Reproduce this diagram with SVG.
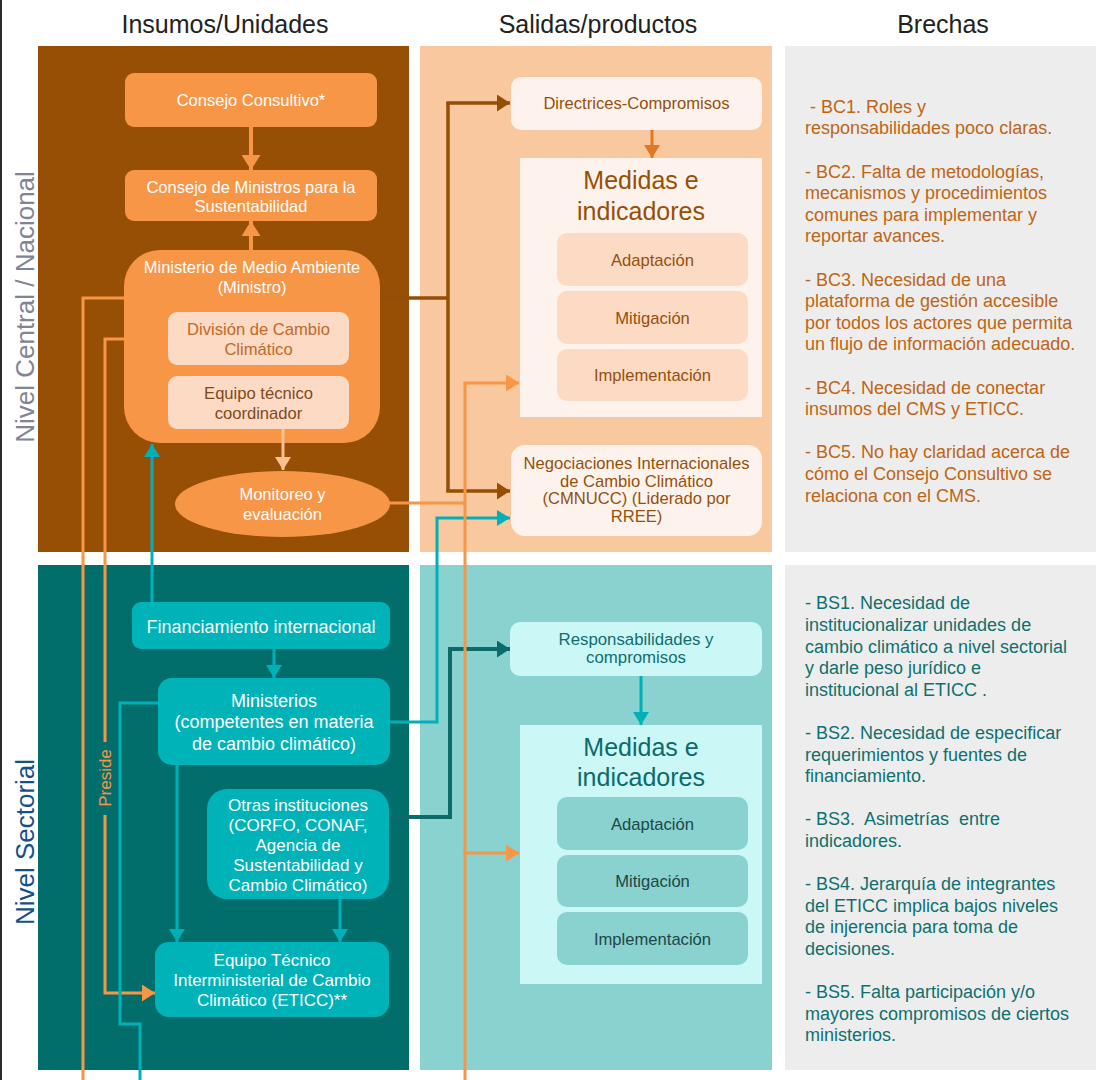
<svg xmlns="http://www.w3.org/2000/svg" width="1096" height="1080" viewBox="0 0 1096 1080">
<defs>
<style>
text{font-family:"Liberation Sans",Arial,sans-serif}
.hdr{font-size:25px;fill:#222;text-anchor:middle}
.lvl{font-size:26px;text-anchor:middle}
.w{fill:#fff;text-anchor:middle;font-size:16.5px}
.wt{fill:#fff;text-anchor:middle;font-size:17px}
.br{fill:#95500E;text-anchor:middle;font-size:16.6px}
.tl{fill:#0F6E6E;text-anchor:middle;font-size:16.8px}
.dk{fill:#1D4747;text-anchor:middle;font-size:16.6px}
.ttl{font-size:25px;text-anchor:middle}
.gapT{fill:#BF6514;font-size:18px}
.gapB{fill:#0E7070;font-size:18px}
.ln{fill:none;stroke-linejoin:miter}
</style>
<marker id="mOr" viewBox="0 0 15 19" refX="15" refY="9.5" markerWidth="15" markerHeight="19" markerUnits="userSpaceOnUse" orient="auto"><path d="M0,0L15,9.5L0,19z" fill="#F79646"/></marker>
<marker id="mOrS" viewBox="0 0 13 17" refX="13" refY="8.5" markerWidth="13" markerHeight="17" markerUnits="userSpaceOnUse" orient="auto"><path d="M0,0L13,8.5L0,17z" fill="#F79646"/></marker>
<marker id="mPe" viewBox="0 0 13 16" refX="13" refY="8" markerWidth="13" markerHeight="16" markerUnits="userSpaceOnUse" orient="auto"><path d="M0,0L13,8L0,16z" fill="#FAC090"/></marker>
<marker id="mBr" viewBox="0 0 13 17" refX="13" refY="8.5" markerWidth="13" markerHeight="17" markerUnits="userSpaceOnUse" orient="auto"><path d="M0,0L13,8.5L0,17z" fill="#944E06"/></marker>
<marker id="mDo" viewBox="0 0 13 16" refX="13" refY="8" markerWidth="13" markerHeight="16" markerUnits="userSpaceOnUse" orient="auto"><path d="M0,0L13,8L0,16z" fill="#E07826"/></marker>
<marker id="mCy" viewBox="0 0 13 16" refX="13" refY="8" markerWidth="13" markerHeight="16" markerUnits="userSpaceOnUse" orient="auto"><path d="M0,0L13,8L0,16z" fill="#00B0B8"/></marker>
<marker id="mDt" viewBox="0 0 13 17" refX="13" refY="8.5" markerWidth="13" markerHeight="17" markerUnits="userSpaceOnUse" orient="auto"><path d="M0,0L13,8.5L0,17z" fill="#0B6B6B"/></marker>
</defs>
<rect x="0" y="0" width="1096" height="1080" fill="#fff"/>
<rect x="0" y="0" width="2" height="1080" fill="#2a2a2a"/>

<g id="headers">
<text class="hdr" x="225" y="33">Insumos/Unidades</text>
<text class="hdr" x="598" y="33">Salidas/productos</text>
<text class="hdr" x="943" y="33">Brechas</text>
</g>

<g id="panels">
<rect x="38" y="46" width="371" height="506" fill="#974F06"/>
<rect x="420" y="46" width="352" height="506" fill="#FAC89E"/>
<rect x="785" y="46" width="311" height="506" fill="#EDEDED"/>
<rect x="38" y="565" width="371" height="505" fill="#026E6C"/>
<rect x="420" y="565" width="352" height="505" fill="#89D2CF"/>
<rect x="785" y="565" width="311" height="505" fill="#EDEDED"/>
</g>

<g id="levels">
<text class="lvl" transform="translate(33.5,307) rotate(-90)" fill="#7F8596">Nivel Central / Nacional</text>
<text class="lvl" transform="translate(33.5,842) rotate(-90)" fill="#14508C">Nivel Sectorial</text>
</g>

<g id="consejo-consultivo">
<rect x="125" y="73" width="252" height="54" rx="9" fill="#F79646"/>
<text class="w" x="251" y="106">Consejo Consultivo*</text>
</g>
<g id="consejo-ministros">
<rect x="125" y="170" width="252" height="51" rx="9" fill="#F79646"/>
<text class="w" x="251" y="193">Consejo de Ministros para la</text>
<text class="w" x="251" y="212">Sustentabilidad</text>
</g>
<g id="mma">
<rect x="124" y="250" width="256" height="193" rx="36" fill="#F79646"/>
<text class="w" x="252" y="273">Ministerio de Medio Ambiente</text>
<text class="w" x="252" y="293">(Ministro)</text>
</g>

<g id="connectors">
<path class="ln" d="M124,298H83V1080" stroke="#F79646" stroke-width="3"/>
<path class="ln" d="M168,339H105V742" stroke="#F79646" stroke-width="3"/>
<path class="ln" d="M105,815V993H155" stroke="#F79646" stroke-width="3" marker-end="url(#mOrS)"/>
<path class="ln" d="M251,127V170" stroke="#F79646" stroke-width="4" marker-end="url(#mOr)"/>
<path class="ln" d="M251,250V221" stroke="#F79646" stroke-width="4" marker-end="url(#mOr)"/>
<path class="ln" d="M283,429V470" stroke="#FAC090" stroke-width="3" marker-end="url(#mPe)"/>
<path class="ln" d="M380,298H448" stroke="#944E06" stroke-width="3.5"/>
<path class="ln" d="M448,103V491" stroke="#944E06" stroke-width="3.5"/>
<path class="ln" d="M446.25,103H510" stroke="#944E06" stroke-width="3.5" marker-end="url(#mBr)"/>
<path class="ln" d="M446.25,491H510" stroke="#944E06" stroke-width="3.5" marker-end="url(#mBr)"/>
<path class="ln" d="M652,130V158" stroke="#E07826" stroke-width="3" marker-end="url(#mDo)"/>
<path class="ln" d="M152,602V444" stroke="#00B0B8" stroke-width="3" marker-end="url(#mCy)"/>
<path class="ln" d="M274,649V678" stroke="#00B0B8" stroke-width="3" marker-end="url(#mCy)"/>
<path class="ln" d="M158,703H120V1024H140V1080" stroke="#00B0B8" stroke-width="3"/>
<path class="ln" d="M177,765V942" stroke="#00B0B8" stroke-width="3" marker-end="url(#mCy)"/>
<path class="ln" d="M340,899V942" stroke="#00B0B8" stroke-width="3" marker-end="url(#mCy)"/>
<path class="ln" d="M390,722H437V518H510" stroke="#00B0B8" stroke-width="3" marker-end="url(#mCy)"/>
<path class="ln" d="M389,817H450V649H510" stroke="#0B6B6B" stroke-width="4" marker-end="url(#mDt)"/>
<path class="ln" d="M641,676V725" stroke="#00B0B8" stroke-width="3" marker-end="url(#mCy)"/>
<path class="ln" d="M388,503H465" stroke="#F79646" stroke-width="3"/>
<path class="ln" d="M465,383V1080" stroke="#F79646" stroke-width="3"/>
<path class="ln" d="M463.5,383H519" stroke="#F79646" stroke-width="3" marker-end="url(#mOrS)"/>
<path class="ln" d="M463.5,853H519" stroke="#F79646" stroke-width="3" marker-end="url(#mOrS)"/>
</g>

<g id="preside-label">
<text transform="translate(111,778) rotate(-90)" text-anchor="middle" font-size="17" fill="#F79646">Preside</text>
</g>

<g id="division">
<rect x="168" y="312" width="181" height="53" rx="9" fill="#FDDAC3"/>
<text x="258.5" y="335" text-anchor="middle" font-size="16.6" fill="#C0692A">División de Cambio</text>
<text x="258.5" y="355" text-anchor="middle" font-size="16.6" fill="#C0692A">Climático</text>
</g>
<g id="equipo-tecnico">
<rect x="168" y="376" width="181" height="53" rx="9" fill="#FDDAC3"/>
<text x="258.5" y="398.5" text-anchor="middle" font-size="16.6" fill="#7E4A1E">Equipo técnico</text>
<text x="258.5" y="418.5" text-anchor="middle" font-size="16.6" fill="#7E4A1E">coordinador</text>
</g>
<g id="monitoreo">
<ellipse cx="282.5" cy="504" rx="107.5" ry="33" fill="#F79646"/>
<text class="w" x="282.5" y="500">Monitoreo y</text>
<text class="w" x="282.5" y="519.5">evaluación</text>
</g>

<g id="directrices">
<rect x="511" y="77" width="251" height="53" rx="10" fill="#FDF3EC"/>
<text class="br" x="636.5" y="108.5">Directrices-Compromisos</text>
</g>
<g id="medidas-central">
<rect x="520" y="158" width="242" height="259" fill="#FDF3EC"/>
<text class="ttl" x="641" y="189" fill="#964F04">Medidas e</text>
<text class="ttl" x="641" y="219.5" fill="#964F04">indicadores</text>
<rect x="557" y="233" width="191" height="53" rx="10" fill="#FDDAC3"/>
<text class="br" x="652.5" y="266">Adaptación</text>
<rect x="557" y="291" width="191" height="53" rx="10" fill="#FDDAC3"/>
<text class="br" x="652.5" y="324">Mitigación</text>
<rect x="557" y="349" width="191" height="52" rx="10" fill="#FDDAC3"/>
<text class="br" x="652.5" y="381">Implementación</text>
</g>
<g id="negociaciones">
<rect x="511" y="445" width="251" height="91" rx="14" fill="#FDF3EC"/>
<text class="br" x="636.5" y="468.5">Negociaciones Internacionales</text>
<text class="br" x="636.5" y="486.5">de Cambio Climático</text>
<text class="br" x="636.5" y="504">(CMNUCC) (Liderado por</text>
<text class="br" x="636.5" y="521.5">RREE)</text>
</g>

<g id="financiamiento">
<rect x="132" y="602" width="258" height="47" rx="9" fill="#00B3B9"/>
<text x="261" y="633" text-anchor="middle" font-size="18" fill="#fff">Financiamiento internacional</text>
</g>
<g id="ministerios">
<rect x="158" y="678" width="232" height="87" rx="14" fill="#00B3B9"/>
<text x="274" y="707" text-anchor="middle" font-size="18" fill="#fff">Ministerios</text>
<text x="274" y="728" text-anchor="middle" font-size="18" fill="#fff">(competentes en materia</text>
<text x="274" y="749.5" text-anchor="middle" font-size="18" fill="#fff">de cambio climático)</text>
</g>
<g id="otras">
<rect x="207" y="789" width="182" height="110" rx="20" fill="#00B3B9"/>
<text class="wt" x="298" y="811">Otras instituciones</text>
<text class="wt" x="298" y="831">(CORFO, CONAF,</text>
<text class="wt" x="298" y="851">Agencia de</text>
<text class="wt" x="298" y="871">Sustentabilidad y</text>
<text class="wt" x="298" y="891">Cambio Climático)</text>
</g>
<g id="eticc">
<rect x="155" y="942" width="234" height="75" rx="14" fill="#00B3B9"/>
<text class="wt" x="272" y="966">Equipo Técnico</text>
<text class="wt" x="272" y="986">Interministerial de Cambio</text>
<text class="wt" x="272" y="1005.5">Climático (ETICC)**</text>
</g>

<g id="responsabilidades">
<rect x="510" y="622" width="252" height="54" rx="10" fill="#CCF7F7"/>
<text class="tl" x="636" y="645">Responsabilidades y</text>
<text class="tl" x="636" y="663">compromisos</text>
</g>
<g id="medidas-sectorial">
<rect x="520" y="725" width="242" height="259" fill="#CCF7F7"/>
<text class="ttl" x="641" y="755.5" fill="#0B6B6B">Medidas e</text>
<text class="ttl" x="641" y="785.5" fill="#0B6B6B">indicadores</text>
<rect x="557" y="797" width="191" height="53" rx="10" fill="#89D2CF"/>
<text class="dk" x="652.5" y="829.5">Adaptación</text>
<rect x="557" y="855" width="191" height="52" rx="10" fill="#89D2CF"/>
<text class="dk" x="652.5" y="887">Mitigación</text>
<rect x="557" y="912" width="191" height="53" rx="10" fill="#89D2CF"/>
<text class="dk" x="652.5" y="945">Implementación</text>
</g>

<g id="brechas-central">
<text class="gapT" x="810" y="112.7">- BC1. Roles y</text>
<text class="gapT" x="805" y="134.3">responsabilidades poco claras.</text>
<text class="gapT" x="805" y="177.5">- BC2. Falta de metodologías,</text>
<text class="gapT" x="805" y="199.1">mecanismos y procedimientos</text>
<text class="gapT" x="805" y="220.7">comunes para implementar y</text>
<text class="gapT" x="805" y="242.3">reportar avances.</text>
<text class="gapT" x="805" y="285.5">- BC3. Necesidad de una</text>
<text class="gapT" x="805" y="307.1">plataforma de gestión accesible</text>
<text class="gapT" x="805" y="328.7">por todos los actores que permita</text>
<text class="gapT" x="805" y="350.3">un flujo de información adecuado.</text>
<text class="gapT" x="805" y="393.5">- BC4. Necesidad de conectar</text>
<text class="gapT" x="805" y="415.1">insumos del CMS y ETICC.</text>
<text class="gapT" x="805" y="458.3">- BC5. No hay claridad acerca de</text>
<text class="gapT" x="805" y="479.9">cómo el Consejo Consultivo se</text>
<text class="gapT" x="805" y="501.5">relaciona con el CMS.</text>
</g>
<g id="brechas-sectorial">
<text class="gapB" x="805" y="609.3">- BS1. Necesidad de</text>
<text class="gapB" x="805" y="630.9">institucionalizar unidades de</text>
<text class="gapB" x="805" y="652.5">cambio climático a nivel sectorial</text>
<text class="gapB" x="805" y="674.1">y darle peso jurídico e</text>
<text class="gapB" x="805" y="695.7">institucional al ETICC .</text>
<text class="gapB" x="805" y="738.9">- BS2. Necesidad de especificar</text>
<text class="gapB" x="805" y="760.5">requerimientos y fuentes de</text>
<text class="gapB" x="805" y="782.1">financiamiento.</text>
<text class="gapB" x="805" y="825.3" xml:space="preserve">- BS3.  Asimetrías  entre</text>
<text class="gapB" x="805" y="846.9">indicadores.</text>
<text class="gapB" x="805" y="890.1">- BS4. Jerarquía de integrantes</text>
<text class="gapB" x="805" y="911.7">del ETICC implica bajos niveles</text>
<text class="gapB" x="805" y="933.3">de injerencia para toma de</text>
<text class="gapB" x="805" y="954.9">decisiones.</text>
<text class="gapB" x="805" y="998.1">- BS5. Falta participación y/o</text>
<text class="gapB" x="805" y="1019.7">mayores compromisos de ciertos</text>
<text class="gapB" x="805" y="1041.3">ministerios.</text>
</g>
</svg>
